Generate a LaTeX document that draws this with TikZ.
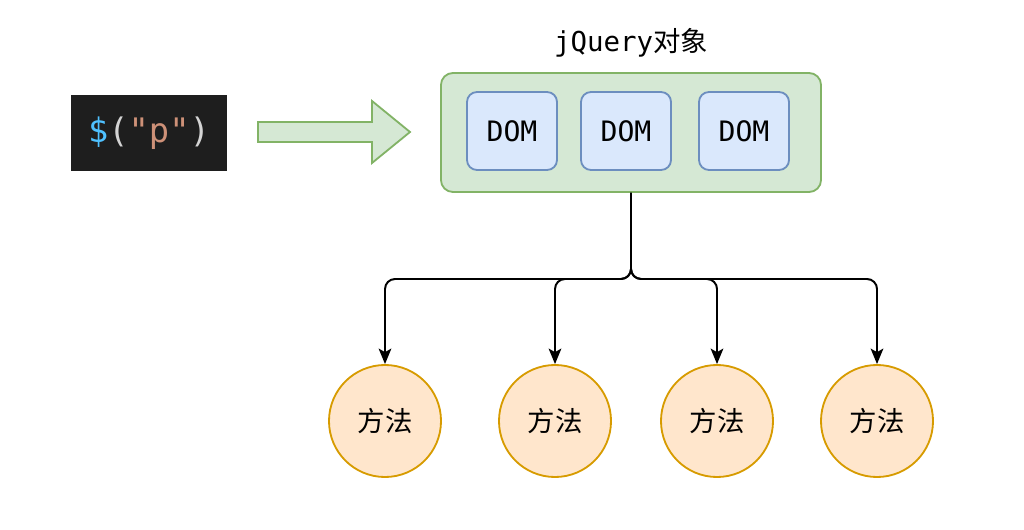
\documentclass[tikz,border=0pt]{standalone}
\usepackage{fontspec}
\setmainfont{DejaVu Sans}
\newfontfamily\codefont{DejaVu Sans Mono}
\newfontfamily\cjk{Noto Sans CJK SC}
\usetikzlibrary{positioning, arrows.meta, calc}

\definecolor{jqfill}{HTML}{D5E8D4}
\definecolor{jqline}{HTML}{82B366}
\definecolor{domfill}{HTML}{DAE8FC}
\definecolor{domline}{HTML}{6C8EBF}
\definecolor{mfill}{HTML}{FFE6CC}
\definecolor{mline}{HTML}{D79B00}
\definecolor{codebg}{HTML}{1E1E1E}
\definecolor{codeparen}{HTML}{D4D4D4}
\definecolor{codedollar}{HTML}{4FC1FF}
\definecolor{codestr}{HTML}{CE9178}

\begin{document}
\begin{tikzpicture}[x=0.025cm, y=-0.025cm,
  jqbox/.style={draw=jqline, fill=jqfill, line width=1.3pt, rounded corners=0.3cm, minimum width=9.5cm, minimum height=2.975cm},
  dombox/.style={draw=domline, fill=domfill, line width=1.3pt, rounded corners=0.25cm, minimum width=2.25cm, minimum height=1.95cm, font=\codefont\fontsize{20}{24}\selectfont},
  method/.style={circle, draw=mline, fill=mfill, line width=1.3pt, minimum size=2.8cm, inner sep=0pt, font=\cjk\fontsize{19.5}{22}\selectfont},
  link/.style={-{Stealth[length=11pt, width=9pt, inset=2.5pt]}, line width=1.4pt, rounded corners=0.25cm}]
\useasboundingbox (0,0) rectangle (1024,530);

% selector code
\node[fill=codebg, minimum width=3.9cm, minimum height=1.9cm, text=codeparen, font=\codefont\fontsize{24}{28}\selectfont] (code) at (149,133) {\textcolor{codedollar}{\$}(\textcolor{codestr}{"p"})};

% big arrow
\draw[draw=jqline, fill=jqfill, line width=1.3pt] (258,122) -- (372,122) -- (372,101) -- (410,132) -- (372,163) -- (372,142) -- (258,142) -- cycle;

% jQuery object
\node[font=\codefont\fontsize{19.5}{22}\selectfont] (jqlabel) at (631,43) {jQuery{\cjk 对象}};
\node[jqbox] (jq) at (631,132.5) {};
\node[dombox] (dom1) at (512,131) {DOM};
\node[dombox] (dom2) at (626,131) {DOM};
\node[dombox] (dom3) at (744,131) {DOM};

% methods
\coordinate (split) at (631,279);
\foreach \x/\n in {385/1,555/2,717/3,877/4} {
  \node[method] (m\n) at (\x,421) {方法};
  \draw[link] (jq.south) -- (split) -| (m\n.north);
}
\end{tikzpicture}
\end{document}
